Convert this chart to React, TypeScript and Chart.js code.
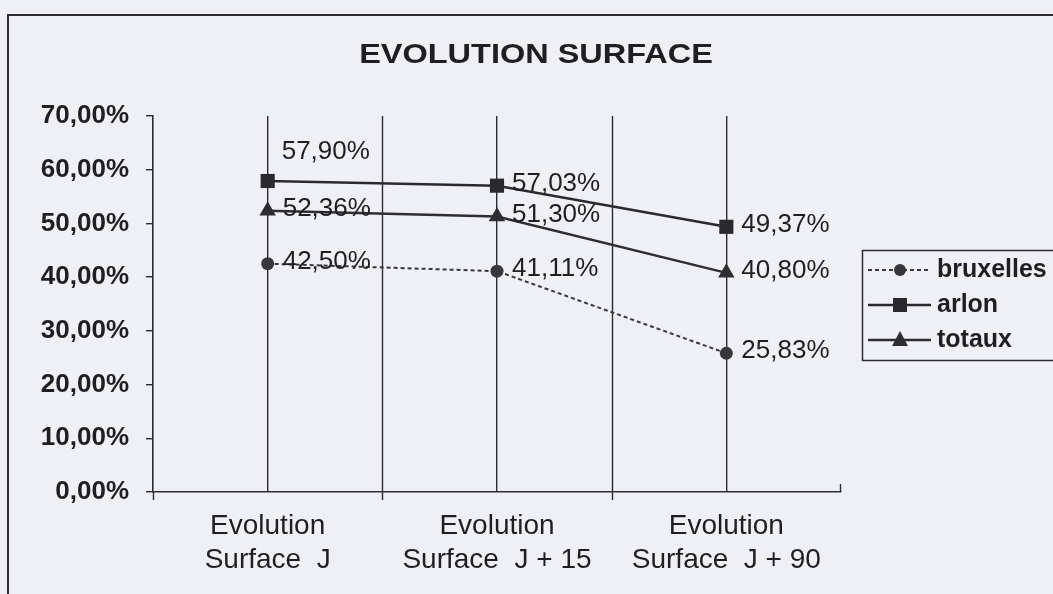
import React, { useEffect, useRef } from 'react';
import { Chart, registerables } from 'chart.js';

Chart.register(...registerables);

// ---- data ----
const categories: string[][] = [
  ['Evolution', 'Surface  J'],
  ['Evolution', 'Surface  J + 15'],
  ['Evolution', 'Surface  J + 90'],
];
const seriesNames = ['bruxelles', 'arlon', 'totaux'];
const bruxelles = [42.5, 41.11, 25.83];
const arlon = [57.9, 57.03, 49.37];
const totaux = [52.36, 51.3, 40.8];
const yMin = 0;
const yMax = 70;
const yStep = 10;
const chartTitle = 'EVOLUTION SURFACE';

// ---- style ----
const FONT = '"Liberation Sans", Arial, Helvetica, sans-serif';
const INK = '#1f1f22';
const LINE = '#2c2c30';
const BG = '#eef0f6';
// label placement per series/point (style only)
const labelPlacement: Record<string, string[]> = {
  bruxelles: ['right', 'right', 'right'],
  arlon: ['above', 'right', 'right'],
  totaux: ['right', 'right', 'right'],
};

const fmt = (v: number) => v.toFixed(2).replace('.', ',') + '%';

const titlePlugin = {
  id: 'scanTitle',
  afterDraw(chart: any) {
    const ctx = chart.ctx;
    ctx.save();
    ctx.fillStyle = INK;
    ctx.font = `bold 28px ${FONT}`;
    ctx.textAlign = 'center';
    ctx.textBaseline = 'alphabetic';
    ctx.translate(536, 63);
    ctx.scale(1.16, 1);
    ctx.fillText(chartTitle, 0, 0);
    ctx.restore();
  },
};

const boundaryPlugin = {
  id: 'boundaries',
  beforeDatasetsDraw(chart: any) {
    const { ctx, chartArea, scales } = chart;
    const x = scales.x;
    ctx.save();
    ctx.strokeStyle = LINE;
    ctx.lineWidth = 1.4;
    ctx.beginPath();
    for (let i = 1; i < categories.length; i++) {
      const px = Math.round((x.getPixelForValue(i - 1) + x.getPixelForValue(i)) / 2) + 0.5;
      ctx.moveTo(px, chartArea.top);
      ctx.lineTo(px, chartArea.bottom + 8);
    }
    ctx.moveTo(chartArea.left + 0.5, chartArea.bottom);
    ctx.lineTo(chartArea.left + 0.5, chartArea.bottom + 8);
    ctx.moveTo(chartArea.right - 0.5, chartArea.bottom);
    ctx.lineTo(chartArea.right - 0.5, chartArea.bottom - 8);
    ctx.stroke();
    ctx.restore();
  },
};

const valueLabelPlugin = {
  id: 'valueLabels',
  afterDatasetsDraw(chart: any) {
    const ctx = chart.ctx;
    ctx.save();
    ctx.fillStyle = INK;
    ctx.font = `26px ${FONT}`;
    ctx.textAlign = 'left';
    ctx.textBaseline = 'middle';
    chart.data.datasets.forEach((ds: any, di: number) => {
      const meta = chart.getDatasetMeta(di);
      const place = labelPlacement[ds.label] || [];
      meta.data.forEach((pt: any, i: number) => {
        const v = ds.data[i];
        if (place[i] === 'above') {
          ctx.fillText(fmt(v), pt.x + 14, pt.y - 29);
        } else {
          ctx.fillText(fmt(v), pt.x + 15, pt.y - 2);
        }
      });
    });
    ctx.restore();
  },
};

const legendPlugin = {
  id: 'scanLegend',
  afterDraw(chart: any) {
    const ctx = chart.ctx;
    const boxL = 862;
    const boxT = 250;
    const boxB = 360;
    ctx.save();
    ctx.strokeStyle = LINE;
    ctx.lineWidth = 1.5;
    ctx.strokeRect(boxL + 0.5, boxT + 0.5, 300, boxB - boxT);
    const rows = [270, 305, 340];
    chart.data.datasets.forEach((ds: any, di: number) => {
      const y = rows[di];
      ctx.strokeStyle = ds.borderColor;
      ctx.lineWidth = ds.borderWidth;
      ctx.setLineDash(ds.borderDash || []);
      ctx.beginPath();
      ctx.moveTo(868, y);
      ctx.lineTo(931, y);
      ctx.stroke();
      ctx.setLineDash([]);
      ctx.fillStyle = ds.pointBackgroundColor;
      const cx = 900;
      ctx.beginPath();
      if (ds.pointStyle === 'rect') {
        ctx.rect(cx - 7, y - 7, 14, 14);
      } else if (ds.pointStyle === 'triangle') {
        ctx.moveTo(cx, y - 9);
        ctx.lineTo(cx + 8, y + 6);
        ctx.lineTo(cx - 8, y + 6);
        ctx.closePath();
      } else {
        ctx.arc(cx, y, 6, 0, Math.PI * 2);
      }
      ctx.fill();
      ctx.fillStyle = INK;
      ctx.font = `bold 25px ${FONT}`;
      ctx.textAlign = 'left';
      ctx.textBaseline = 'middle';
      ctx.fillText(ds.label, 937, y);
    });
    ctx.restore();
  },
};

export default function App() {
  const ref = useRef<HTMLCanvasElement | null>(null);

  useEffect(() => {
    if (!ref.current) return;
    const chart = new Chart(ref.current, {
      type: 'line',
      data: {
        labels: categories,
        datasets: [
          {
            label: seriesNames[0],
            data: bruxelles,
            borderColor: '#38383c',
            backgroundColor: '#38383c',
            borderWidth: 2,
            borderDash: [4, 3],
            pointStyle: 'circle',
            pointRadius: 6.5,
            pointBackgroundColor: '#38383c',
            pointBorderColor: '#38383c',
            pointBorderWidth: 0,
            tension: 0,
          },
          {
            label: seriesNames[1],
            data: arlon,
            borderColor: '#2a2a2e',
            backgroundColor: '#2a2a2e',
            borderWidth: 2.5,
            pointStyle: 'rect',
            pointRadius: 10,
            pointBackgroundColor: '#2a2a2e',
            pointBorderColor: '#2a2a2e',
            pointBorderWidth: 0,
            tension: 0,
          },
          {
            label: seriesNames[2],
            data: totaux,
            borderColor: '#2e2e32',
            backgroundColor: '#2e2e32',
            borderWidth: 2.5,
            pointStyle: 'triangle',
            pointRadius: 9.5,
            pointBackgroundColor: '#2e2e32',
            pointBorderColor: '#2e2e32',
            pointBorderWidth: 0,
            tension: 0,
          },
        ],
      },
      options: {
        animation: false,
        responsive: false,
        devicePixelRatio: 1,
        layout: { padding: { left: 0, right: 212, top: 116, bottom: 0 } },
        plugins: {
          legend: { display: false },
          title: { display: false },
          tooltip: { enabled: false },
        },
        scales: {
          x: {
            type: 'category',
            offset: true,
            grid: {
              display: true,
              drawOnChartArea: true,
              drawTicks: false,
              color: LINE,
              lineWidth: 1.4,
              offset: false,
            },
            border: { display: true, color: LINE, width: 1.6 },
            ticks: {
              color: INK,
              font: { family: FONT, size: 28, lineHeight: 1.22 },
              padding: 17,
              maxRotation: 0,
              autoSkip: false,
            },
            afterFit: (scale: any) => {
              scale.height = 102;
            },
          },
          y: {
            min: yMin,
            max: yMax,
            grid: {
              drawOnChartArea: false,
              drawTicks: true,
              tickLength: 7,
              color: LINE,
              lineWidth: 1.4,
            },
            border: { display: true, color: LINE, width: 1.6 },
            ticks: {
              stepSize: yStep,
              color: INK,
              font: { family: FONT, size: 26, weight: 'bold' },
              padding: 17,
              callback: (v: any) => fmt(Number(v)),
            },
            afterFit: (scale: any) => {
              scale.width = 153;
            },
          },
        },
      },
      plugins: [boundaryPlugin, valueLabelPlugin, legendPlugin, titlePlugin],
    } as any);
    return () => chart.destroy();
  }, []);

  return (
    <div
      style={{
        position: 'fixed',
        left: 0,
        top: 0,
        width: 1053,
        height: 594,
        overflow: 'hidden',
        background: BG,
      }}
    >
      <div
        style={{
          position: 'absolute',
          left: 7,
          top: 14,
          width: 1200,
          height: 800,
          border: `2px solid ${LINE}`,
        }}
      />
      <canvas
        ref={ref}
        width={1053}
        height={594}
        style={{ position: 'absolute', left: 0, top: 0, display: 'block' }}
      />
    </div>
  );
}
